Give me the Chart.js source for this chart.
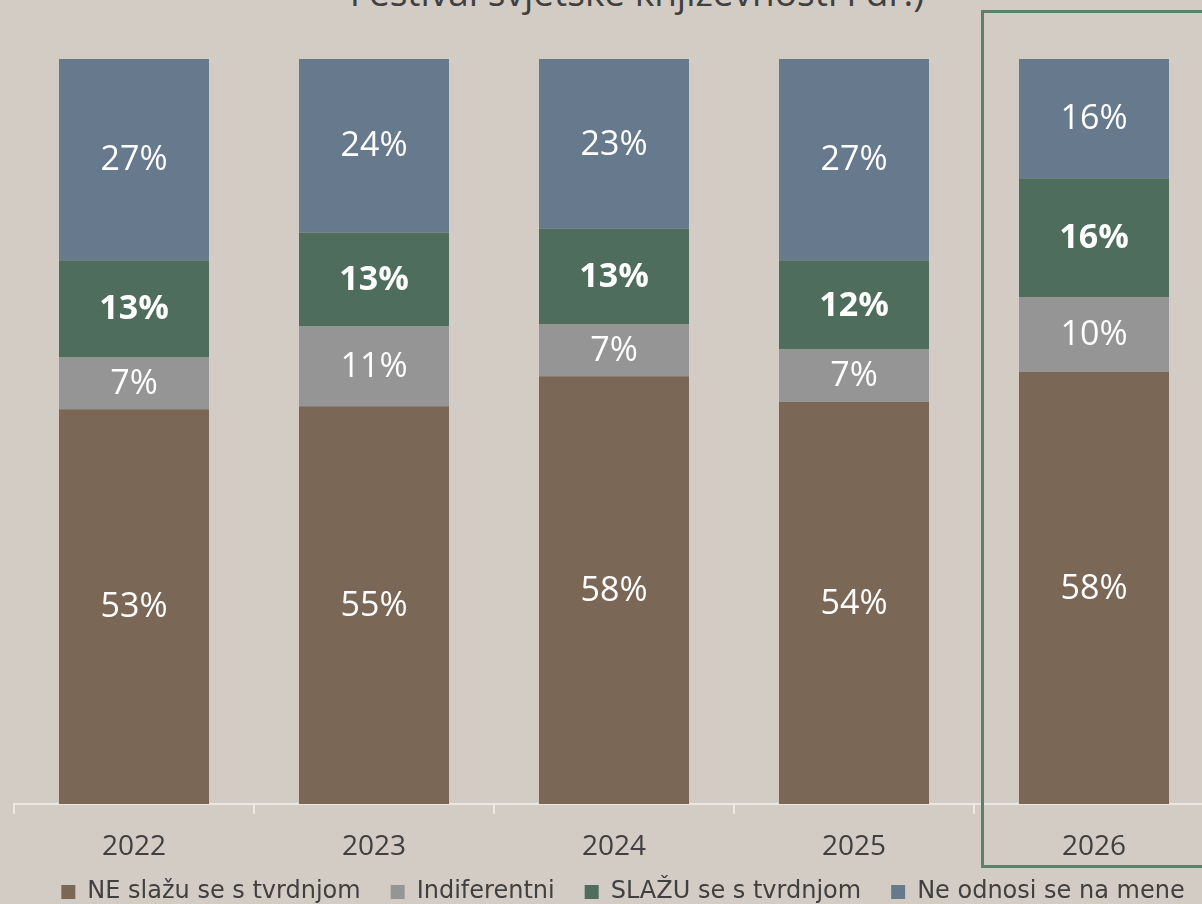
<!DOCTYPE html>
<html>
<head>
<meta charset="utf-8">
<script src="https://cdn.jsdelivr.net/npm/chart.js@4"></script>
<style>
  html, body { margin: 0; padding: 0; background: #d3ccc5; overflow: hidden; width: 1202px; height: 904px; }
  #title { position: absolute; left: 0; top: -34px; width: 1274px; text-align: center;
           font-family: "Open Sans", sans-serif; font-size: 37px; color: #404040; white-space: nowrap; }
  #wrap { position: absolute; left: 0; top: 0; width: 1246px; height: 904px; }
</style>
</head>
<body>
<div id="title">Festival svjetske književnosti i dr.)</div>
<div id="wrap"><canvas id="c"></canvas></div>
<script>
const categories = ["2022", "2023", "2024", "2025", "2026"];
const seriesNames = ["NE slažu se s tvrdnjom", "Indiferentni", "SLAŽU se s tvrdnjom", "Ne odnosi se na mene"];
const neSlazu   = [53, 55, 58, 54, 58];
const indifer   = [7, 11, 7, 7, 10];
const slazu     = [13, 13, 13, 12, 16];
const neOdnosi  = [27, 24, 23, 27, 16];
const colors = ["#7a6756", "#959595", "#4e6d5c", "#67798d"];
const highlightIndex = 4;

const raw = [neSlazu, indifer, slazu, neOdnosi];
const totals = categories.map((_, i) => raw.reduce((s, arr) => s + arr[i], 0));
const norm = raw.map(arr => arr.map((v, i) => v / totals[i] * 100));

const labelPlugin = {
  id: 'segLabels',
  afterDatasetsDraw(chart) {
    const ctx = chart.ctx;
    ctx.save();
    ctx.fillStyle = '#ffffff';
    ctx.textAlign = 'center';
    ctx.textBaseline = 'middle';
    chart.data.datasets.forEach((ds, di) => {
      const meta = chart.getDatasetMeta(di);
      ctx.font = (di === 2 ? 'bold ' : '') + '34px "Open Sans", sans-serif';
      meta.data.forEach((el, i) => {
        const p = el.getCenterPoint();
        ctx.fillText(ds.rawValues[i] + '%', p.x, p.y + 1);
      });
    });
    ctx.restore();
  }
};

const highlightPlugin = {
  id: 'highlight',
  afterDraw(chart) {
    const x = chart.scales.x;
    const ctx = chart.ctx;
    const w = x.width / categories.length;
    const cx = x.getPixelForValue(highlightIndex);
    ctx.save();
    ctx.strokeStyle = '#5d806b';
    ctx.lineWidth = 3;
    ctx.strokeRect(cx - w / 2 + 8.5, 11.5, w + 20, 855);
    ctx.restore();
  }
};

const legendShift = {
  id: 'legendShift',
  afterLayout(chart) {
    const lg = chart.legend;
    if (!lg) return;
    lg.left += 9; lg.right += 9;
    lg.top -= 16; lg.bottom -= 16;
  }
};

new Chart(document.getElementById('c'), {
  type: 'bar',
  data: {
    labels: categories,
    datasets: seriesNames.map((n, k) => ({
      label: n,
      data: norm[k],
      rawValues: raw[k],
      backgroundColor: colors[k],
      borderWidth: 0,
      categoryPercentage: 1,
      barPercentage: 0.625
    }))
  },
  options: {
    responsive: true,
    maintainAspectRatio: false,
    animation: false,
    layout: { padding: { left: 14, right: 32, top: 59, bottom: -26 } },
    scales: {
      x: {
        stacked: true,
        grid: { drawOnChartArea: false, color: '#ebe7e3', lineWidth: 2, tickLength: 10, offset: true },
        border: { color: '#ebe7e3', width: 2 },
        ticks: { color: '#404040', font: { family: 'Open Sans', size: 28 }, padding: 16 },
        afterFit(scale) { scale.height = 62; }
      },
      y: { stacked: true, display: false, min: 0, max: 100 }
    },
    plugins: {
      legend: {
        position: 'bottom',
        labels: {
          color: '#404040',
          font: { family: 'DejaVu Sans', size: 24 },
          boxWidth: 14, boxHeight: 14, padding: 30
        }
      },
      tooltip: { enabled: false }
    }
  },
  plugins: [labelPlugin, highlightPlugin, legendShift]
});
</script>
</body>
</html>
